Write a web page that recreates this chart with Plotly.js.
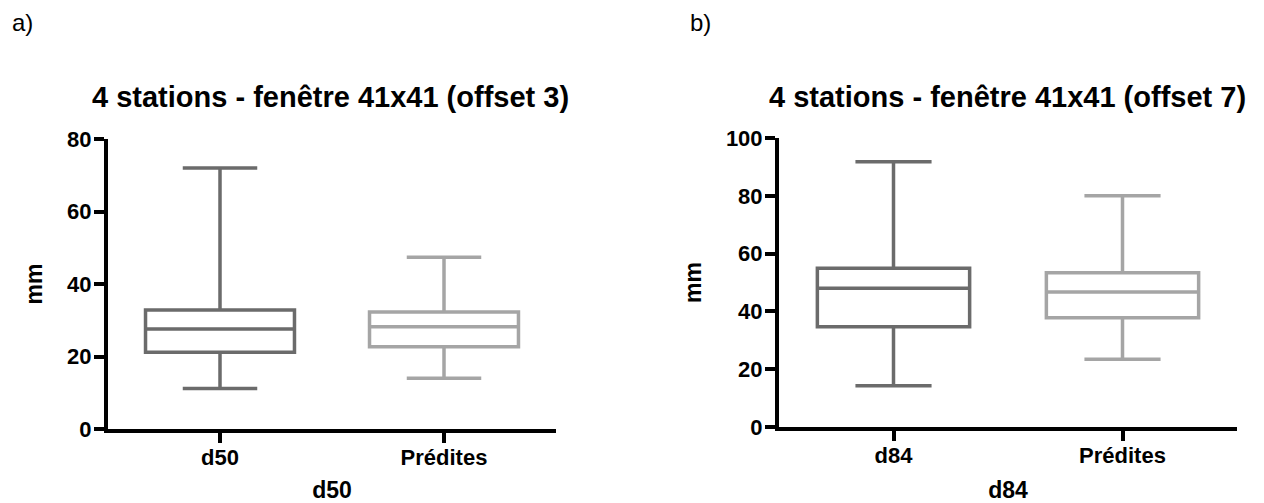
<!DOCTYPE html>
<html>
<head>
<meta charset="utf-8">
<script src="https://cdn.plot.ly/plotly-3.0.1.min.js"></script>
<style>html,body{margin:0;padding:0;background:#fff;}#chart{width:1264px;height:503px;}</style>
</head>
<body>
<div id="chart"></div>
<script>
// Panel a) : d50
const categoriesA = ['d50', 'Prédites'];
const lowA = [11.2, 14.0];
const q1A = [21.2, 22.7];
const medA = [27.6, 28.2];
const q3A = [32.8, 32.3];
const highA = [72.0, 47.4];

// Panel b) : d84
const categoriesB = ['d84', 'Prédites'];
const lowB = [14.3, 23.4];
const q1B = [34.7, 37.8];
const medB = [48.0, 46.7];
const q3B = [54.9, 53.4];
const highB = [91.8, 80.0];

const titleA = '4 stations - fenêtre 41x41 (offset 3)';
const titleB = '4 stations - fenêtre 41x41 (offset 7)';
const colors = ['#6b6b6b', '#a5a5a5'];

const FONT = 'Liberation Sans, Arial, Helvetica, sans-serif';

function boxes(cats, lo, q1, med, q3, hi, xa, ya) {
  return cats.map((c, i) => ({
    type: 'box',
    x: [c],
    lowerfence: [lo[i]],
    q1: [q1[i]],
    median: [med[i]],
    q3: [q3[i]],
    upperfence: [hi[i]],
    boxpoints: false,
    width: 0.665,
    whiskerwidth: 0.5,
    fillcolor: '#ffffff',
    line: {color: colors[i], width: 3.5},
    xaxis: xa,
    yaxis: ya,
    showlegend: false,
    hoverinfo: 'none'
  }));
}

const data = [].concat(
  boxes(categoriesA, lowA, q1A, medA, q3A, highA, 'x', 'y'),
  boxes(categoriesB, lowB, q1B, medB, q3B, highB, 'x2', 'y2')
);

const tickfont = {family: FONT, size: 22, color: '#000', weight: 'bold'};
const titlefont = {family: FONT, size: 23, color: '#000', weight: 'bold'};

function xax(dom, cats, title) {
  return {
    domain: dom, type: 'category', categoryarray: cats, range: [-0.5, 1.5],
    showline: true, linewidth: 4, linecolor: '#000', mirror: false,
    ticks: 'outside', ticklen: 10, tickwidth: 4, tickcolor: '#000',
    ticklabelstandoff: -4,
    showgrid: false, zeroline: false, tickfont: tickfont,
    title: {text: title, font: titlefont, standoff: 15},
    fixedrange: true
  };
}
function yax(dom, rng, dt, anchor) {
  return {
    domain: dom, range: rng, dtick: dt, tick0: 0, anchor: anchor,
    showline: true, linewidth: 4, linecolor: '#000',
    ticks: 'outside', ticklen: 10, tickwidth: 4, tickcolor: '#000',
    ticklabelstandoff: -2,
    showgrid: false, zeroline: false, tickfont: tickfont,
    title: {text: 'mm', font: titlefont, standoff: 19},
    fixedrange: true
  };
}

const layout = {
  width: 1264, height: 503,
  margin: {l: 0, r: 0, t: 0, b: 0},
  paper_bgcolor: '#fff', plot_bgcolor: '#fff',
  boxmode: 'overlay',
  xaxis: Object.assign(xax([108/1264, 556/1264], categoriesA, 'd50'), {anchor: 'y'}),
  yaxis: yax([74/503, 364/503], [0, 80], 20, 'x'),
  xaxis2: Object.assign(xax([779/1264, 1237/1264], categoriesB, 'd84'), {anchor: 'y2'}),
  yaxis2: yax([76/503, 365/503], [0, 100], 20, 'x2'),
  annotations: [
    {text: titleA, xref: 'paper', yref: 'paper', x: 330/1264, y: 1 - 97/503, xanchor: 'center', yanchor: 'middle', showarrow: false,
     font: {family: FONT, size: 29, color: '#000', weight: 'bold'}},
    {text: titleB, xref: 'paper', yref: 'paper', x: 1007/1264, y: 1 - 97/503, xanchor: 'center', yanchor: 'middle', showarrow: false,
     font: {family: FONT, size: 29, color: '#000', weight: 'bold'}},
    {text: 'a)', xref: 'paper', yref: 'paper', x: 10/1264, y: 1 - 22/503, xanchor: 'left', yanchor: 'middle', showarrow: false,
     font: {family: FONT, size: 24, color: '#000'}},
    {text: 'b)', xref: 'paper', yref: 'paper', x: 688/1264, y: 1 - 22/503, xanchor: 'left', yanchor: 'middle', showarrow: false,
     font: {family: FONT, size: 24, color: '#000'}}
  ]
};

Plotly.newPlot('chart', data, layout, {displayModeBar: false, staticPlot: true});
</script>
</body>
</html>
